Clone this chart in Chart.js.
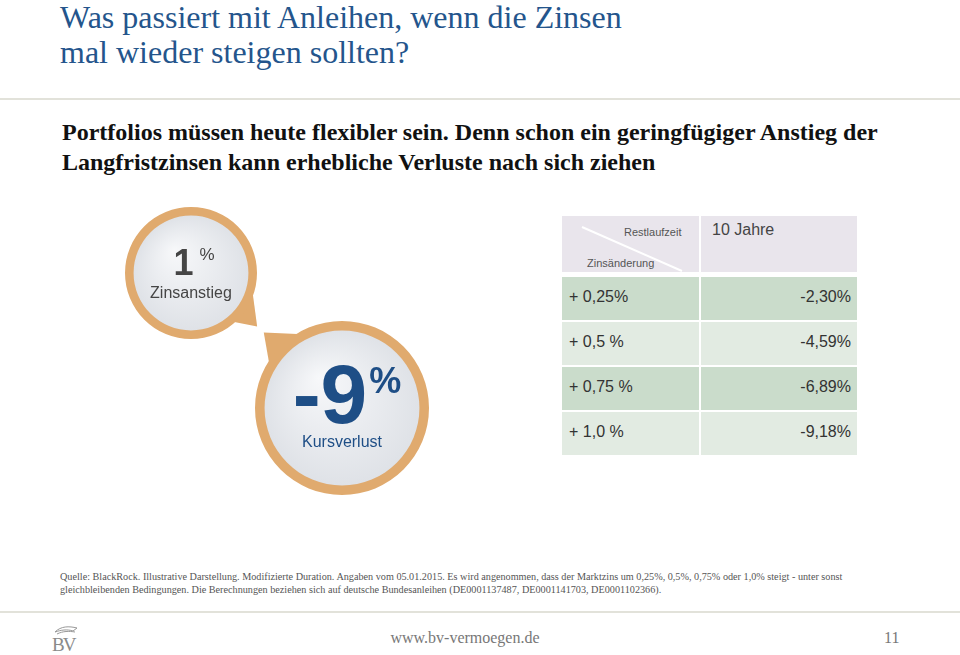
<!DOCTYPE html>
<html lang="de">
<head>
<meta charset="utf-8">
<title>Zinsanstieg und Kursverlust</title>
<script src="https://cdn.jsdelivr.net/npm/chart.js@4.4.1/dist/chart.umd.min.js"></script>
<style>
body{margin:0;width:960px;height:655px;background:#fff;position:relative;overflow:hidden;font-family:"Liberation Sans",Arial,sans-serif}
.abs{position:absolute}
.serif{font-family:"Liberation Serif","Times New Roman",serif}
#titel{left:60px;top:0;font-size:32px;line-height:35px;color:#24558c;white-space:nowrap}
#linie1{left:0;top:98px;width:960px;height:2px;background:#e2e2da}
#unter{left:62px;top:117px;font-size:24px;line-height:30px;font-weight:bold;color:#111;white-space:nowrap}
#blase1{left:121px;top:203px;width:140px;height:140px}
#blase2{left:251px;top:317px;width:182px;height:182px}
.zelle{position:absolute;box-sizing:border-box;color:#333;font-size:16px;white-space:nowrap}
#quelle{left:60px;top:570px;font-size:10.2px;line-height:13px;color:#555;white-space:nowrap}
#linie2{left:0;top:611px;width:960px;height:2px;background:#e2e2da}
#logo{left:50px;top:622px}
#url{left:0;width:930px;top:628px;text-align:center;font-size:16px;line-height:20px;color:#777}
#seite{left:884px;top:628px;font-size:16px;line-height:20px;color:#777}
</style>
</head>
<body>

<div id="titel" class="abs serif">Was passiert mit Anleihen, wenn die Zinsen<br>mal wieder steigen sollten?</div>
<div id="linie1" class="abs"></div>
<div id="unter" class="abs serif">Portfolios müssen heute flexibler sein. Denn schon ein geringfügiger Anstieg der<br>Langfristzinsen kann erhebliche Verluste nach sich ziehen</div>

<div id="blase1" class="abs"><canvas id="graficaZins"></canvas></div>
<div id="blase2" class="abs"><canvas id="graficaKurs"></canvas></div>

<div id="tabelle" class="abs" style="left:0;top:0"></div>

<div id="quelle" class="abs serif">Quelle: BlackRock. Illustrative Darstellung. Modifizierte Duration. Angaben vom 05.01.2015. Es wird angenommen, dass der Marktzins um 0,25%, 0,5%, 0,75% oder 1,0% steigt - unter sonst<br>gleichbleibenden Bedingungen. Die Berechnungen beziehen sich auf deutsche Bundesanleihen (DE0001137487, DE0001141703, DE0001102366).</div>
<div id="linie2" class="abs"></div>
<svg id="logo" class="abs" width="32" height="33" viewBox="0 0 32 33">
  <path d="M5 10 C11 4, 19 4, 27 6 L23 9 C17 7, 11 8, 5 10 Z" fill="none" stroke="#999" stroke-width="1"/>
  <path d="M7 12 C13 9, 19 9, 25 10" fill="none" stroke="#999" stroke-width="1"/>
  <text x="2" y="29" font-family="Liberation Serif, serif" font-size="19" fill="#8a8a8a" letter-spacing="-2">BV</text>
</svg>
<div id="url" class="abs serif">www.bv-vermoegen.de</div>
<div id="seite" class="abs serif">11</div>

<script>
// ===============================
// DATEN
// ===============================

const zinsanstieg = 1;
const kursverlust = -9;

const spalte = "10 Jahre";
const zinsaenderung = ["+ 0,25%", "+ 0,5 %", "+ 0,75 %", "+ 1,0 %"];
const kursaenderung = [-2.30, -4.59, -6.89, -9.18];

// ===============================
// TABELLE
// ===============================

function generarTabelle() {

    const box = document.getElementById("tabelle");
    const links = 562, mitte = 701, rechts = 857;
    let html = "";

    // Kopfzeile
    html += `<div class="zelle" style="left:${links}px;top:216px;width:${mitte - links - 2}px;height:56px;background:#e9e5ec"></div>`;
    html += `<div class="zelle" style="left:${mitte}px;top:216px;width:${rechts - mitte}px;height:56px;background:#e9e5ec"></div>`;
    html += `<svg style="position:absolute;left:${links}px;top:216px" width="140" height="60"><line x1="20" y1="11" x2="120" y2="55" stroke="#fff" stroke-width="2"/></svg>`;
    html += `<div class="zelle" style="left:624px;top:226px;font-size:11px;color:#555">Restlaufzeit</div>`;
    html += `<div class="zelle" style="left:587px;top:257px;font-size:11px;color:#555">Zinsänderung</div>`;
    html += `<div class="zelle" style="left:712px;top:221px;font-size:16px;color:#444">${spalte}</div>`;

    zinsaenderung.forEach((z, i) => {

        const top = 277 + i * 45;
        const farbe = i % 2 === 0 ? "#cadccb" : "#e2ebe2";
        const wert = kursaenderung[i].toFixed(2).replace(".", ",") + "%";

        html += `<div class="zelle" style="left:${links}px;top:${top}px;width:${mitte - links - 2}px;height:43px;background:${farbe};padding:11px 0 0 7px">${z}</div>`;
        html += `<div class="zelle" style="left:${mitte}px;top:${top}px;width:${rechts - mitte}px;height:43px;background:${farbe};padding:11px 6px 0 0;text-align:right">${wert}</div>`;

    });

    box.innerHTML = html;
}

generarTabelle();

// ===============================
// BLASEN (Doughnut)
// ===============================

const blasePlugin = {

    id: "blase",

    beforeDatasetsDraw(chart, args, opts) {

        const arc = chart.getDatasetMeta(0).data[0];
        const { x, y, outerRadius, innerRadius } = arc;
        const ctx = chart.ctx;
        const rad = g => g * Math.PI / 180;

        ctx.save();

        // Zipfel
        ctx.fillStyle = opts.ring;
        ctx.beginPath();
        ctx.moveTo(x + outerRadius * 0.96 * Math.cos(rad(opts.zipfel[0])), y + outerRadius * 0.96 * Math.sin(rad(opts.zipfel[0])));
        ctx.lineTo(x + outerRadius * opts.zipfel[3] * Math.cos(rad(opts.zipfel[2])), y + outerRadius * opts.zipfel[3] * Math.sin(rad(opts.zipfel[2])));
        ctx.lineTo(x + outerRadius * 0.96 * Math.cos(rad(opts.zipfel[1])), y + outerRadius * 0.96 * Math.sin(rad(opts.zipfel[1])));
        ctx.closePath();
        ctx.fill();

        // Innenfläche
        const g = ctx.createRadialGradient(x - innerRadius * 0.3, y - innerRadius * 0.4, 0, x, y, innerRadius);
        g.addColorStop(0, "#f7f8fa");
        g.addColorStop(1, "#dfe2e7");
        ctx.fillStyle = g;
        ctx.beginPath();
        ctx.arc(x, y, innerRadius + 1, 0, Math.PI * 2);
        ctx.fill();

        ctx.restore();
    },

    afterDatasetsDraw(chart, args, opts) {

        const arc = chart.getDatasetMeta(0).data[0];
        const { x, y, innerRadius } = arc;
        const ctx = chart.ctx;
        const r = innerRadius;

        ctx.save();
        ctx.fillStyle = opts.farbe;
        ctx.textBaseline = "alphabetic";

        // Zahl
        ctx.font = "bold " + Math.round(r * opts.zahlGr) + "px 'Liberation Sans', Arial";
        const zahl = String(opts.wert);
        const zw = ctx.measureText(zahl).width;
        ctx.font = opts.protGewicht + " " + Math.round(r * opts.protGr) + "px 'Liberation Sans', Arial";
        const pw = ctx.measureText("%").width;
        const start = x - (zw + pw + opts.abstand) / 2 + opts.versatz;

        ctx.font = "bold " + Math.round(r * opts.zahlGr) + "px 'Liberation Sans', Arial";
        ctx.textAlign = "left";
        ctx.fillText(zahl, start, y + r * opts.zahlY);

        ctx.font = opts.protGewicht + " " + Math.round(r * opts.protGr) + "px 'Liberation Sans', Arial";
        ctx.fillText("%", start + zw + opts.abstand, y + r * opts.protY);

        // Beschriftung
        ctx.font = Math.round(r * opts.textGr) + "px 'Liberation Sans', Arial";
        ctx.textAlign = "center";
        ctx.fillText(opts.text, x, y + r * opts.textY);

        ctx.restore();
    }
};

function generarBlase(id, wert, text, farbe, cfg) {

    new Chart(document.getElementById(id), {

        type: "doughnut",

        data: {
            labels: [text],
            datasets: [{
                data: [Math.abs(wert)],
                backgroundColor: "#e0aa6e",
                borderWidth: 0
            }]
        },

        options: {
            responsive: true,
            maintainAspectRatio: true,
            animation: false,
            cutout: cfg.cutout,
            layout: { padding: 4 },
            events: [],
            plugins: {
                legend: { display: false },
                tooltip: { enabled: false },
                blase: Object.assign({ ring: "#e0aa6e", wert: wert, text: text, farbe: farbe }, cfg)
            }
        },

        plugins: [blasePlugin]

    });
}

generarBlase("graficaZins", zinsanstieg, "Zinsanstieg", "#454545", {
    cutout: "87%",
    zipfel: [15, 50, 39, 1.29],
    zahlGr: 0.62, zahlY: 0.04,
    protGr: 0.30, protY: -0.22, protGewicht: "normal",
    abstand: 6, versatz: 3,
    textGr: 0.27, textY: 0.43
});

generarBlase("graficaKurs", kursverlust, "Kursverlust", "#1e4e86", {
    cutout: "89%",
    zipfel: [210, 242, 224, 1.25],
    zahlGr: 1.08, zahlY: 0.2,
    protGr: 0.47, protY: -0.2, protGewicht: "bold",
    abstand: 2, versatz: 5,
    textGr: 0.21, textY: 0.5
});
</script>
</body>
</html>
